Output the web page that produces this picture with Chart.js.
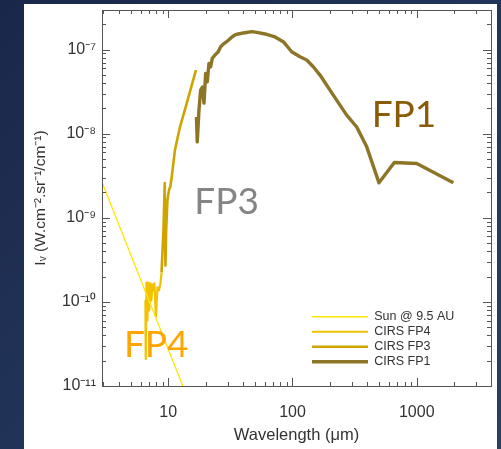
<!DOCTYPE html>
<html><head><meta charset="utf-8">
<script src="https://cdn.jsdelivr.net/npm/chart.js@4/dist/chart.umd.min.js"></script>
<style>
html,body{margin:0;padding:0;width:501px;height:449px;overflow:hidden;background:linear-gradient(135deg,#19284a 0%,#22355a 55%,#2b3f64 100%);}
#panel{position:absolute;left:24px;top:4px;width:473px;height:445px;background:#fff;}
canvas{display:block}
</style></head><body>
<div id="panel"><canvas id="c" width="473" height="445"></canvas></div>
<script>
// ---- data ----
const sunX = [2.93, 13.1];
const sunY = [2.65e-9, 1.0e-11];

const fp4X = [6.55, 6.59, 6.68, 6.80, 6.90, 7.03, 7.19, 7.32, 7.46, 7.60, 7.74, 7.96, 8.19, 8.42, 8.66, 8.83];
const fp4Y = [1.04e-10, 2.1e-11, 1.7e-10, 6.0e-11, 1.7e-10, 7.9e-11, 1.66e-10, 1.04e-10, 1.6e-10, 1.37e-10, 1.66e-10, 6.7e-11, 1.49e-10, 1.37e-10, 1.66e-10, 2.24e-10];

const fp3X = [8.83, 9.15, 9.37, 9.49, 9.62, 9.85, 10.13, 10.41, 10.71, 11.32, 12.41, 13.88, 15.23, 16.71];
const fp3Y = [2.24e-10, 7.1e-10, 2.58e-9, 2.7e-10, 7.1e-10, 1.6e-9, 2.12e-9, 2.37e-9, 3.2e-9, 6.37e-9, 1.19e-8, 2.12e-8, 3.48e-8, 5.7e-8];

const fp1X = [16.87, 17.12, 17.67, 18.23, 18.85, 19.39, 20.0, 20.61, 21.27, 21.95, 22.62, 23.77, 24.53, 25.27, 26.42, 27.73, 29.53, 32.4, 34.44, 36.6, 41.5, 46.95, 51.8, 60.1, 72.3, 84.3, 98.5, 114.9, 130.1, 147, 166.5, 213, 273, 328.8, 395.8, 497, 660, 1000, 1970];
const fp1Y = [1.58e-8, 7.98e-9, 1.9e-8, 3.3e-8, 3.58e-8, 2.31e-8, 5.21e-8, 4.14e-8, 6.85e-8, 6.24e-8, 7.86e-8, 8.6e-8, 9.0e-8, 9.4e-8, 1.08e-7, 1.16e-7, 1.24e-7, 1.40e-7, 1.49e-7, 1.53e-7, 1.585e-7, 1.63e-7, 1.60e-7, 1.53e-7, 1.41e-7, 1.24e-7, 9.4e-8, 8.2e-8, 7.5e-8, 6.24e-8, 4.97e-8, 2.87e-8, 1.66e-8, 1.2e-8, 6.97e-9, 2.6e-9, 4.54e-9, 4.42e-9, 2.6e-9];

const seriesLabels = ['Sun @ 9.5 AU', 'CIRS FP4', 'CIRS FP3', 'CIRS FP1'];
const xTickValues = [10, 100, 1000];
const yTickValues = [1e-11, 1e-10, 1e-9, 1e-8, 1e-7];

// in-plot annotations (anchored in data space)
const noteTexts = ['FP1', 'FP3', 'FP4'];
const noteX = [434, 16.19, 4.40];
const noteY = [1.2e-8, 1.12e-9, 2.2e-11];
const noteColors = ['#8a5c08', '#858585', '#ffa500'];

const zip = (xs, ys) => xs.map((x, i) => ({x: x, y: ys[i]}));
const SUP = {'-':'\u207B','0':'\u2070','1':'\u00B9','2':'\u00B2','3':'\u00B3','4':'\u2074','5':'\u2075','6':'\u2076','7':'\u2077','8':'\u2078','9':'\u2079'};
const sup = s => String(s).split('').map(c => SUP[c]).join('');
const FONT = "'Liberation Sans', Arial, Helvetica, sans-serif";

const framePlugin = {
  id: 'frame',
  afterLayout(chart) {
    const lg = chart.legend;
    if (!lg) return;
    const w = lg.width;
    lg.left = 285.5; lg.right = lg.left + w;
    lg.top = 304; lg.bottom = lg.top + 100; lg.height = 100;
  },
  afterDatasetsDraw(chart) {
    const ctx = chart.ctx, xs = chart.scales.x, ys = chart.scales.y;
    ctx.save();
    ctx.font = "37px Lato, 'Open Sans', sans-serif";
    ctx.textAlign = 'left';
    ctx.textBaseline = 'alphabetic';
    noteTexts.forEach((t, i) => {
      ctx.fillStyle = noteColors[i];
      ctx.fillText(t, xs.getPixelForValue(noteX[i]), ys.getPixelForValue(noteY[i]));
    });
    ctx.restore();
  },
  afterDraw(chart) {
    const ctx = chart.ctx, xs = chart.scales.x, ys = chart.scales.y;
    const {left, right, top, bottom} = chart.chartArea;
    ctx.save();
    ctx.strokeStyle = '#555';
    ctx.lineWidth = 1;
    ctx.strokeRect(Math.round(left) + 0.5, Math.round(top) + 0.5, Math.round(right - left), Math.round(bottom - top));
    ctx.beginPath();
    for (let k = 0; k <= 4; k++) {
      for (let m = 1; m <= 9; m++) {
        const v = m * Math.pow(10, k);
        if (v < xs.min || v > xs.max) continue;
        const p = Math.round(xs.getPixelForValue(v)) + 0.5;
        const len = m === 1 ? 8 : 4;
        ctx.moveTo(p, bottom); ctx.lineTo(p, bottom - len);
        ctx.moveTo(p, top); ctx.lineTo(p, top + len);
      }
    }
    for (let k = -12; k <= -6; k++) {
      for (let m = 1; m <= 9; m++) {
        const v = m * Math.pow(10, k);
        if (v < ys.min * 0.999 || v > ys.max) continue;
        const p = Math.round(ys.getPixelForValue(v)) + 0.5;
        const len = m === 1 ? 8 : 4;
        ctx.moveTo(left, p); ctx.lineTo(left + len, p);
        ctx.moveTo(right, p); ctx.lineTo(right - len, p);
      }
    }
    ctx.stroke();
    ctx.restore();
  }
};

new Chart(document.getElementById('c'), {
  type: 'line',
  data: {
    datasets: [
      {label: seriesLabels[0], data: zip(sunX, sunY), borderColor: '#ffe600', borderWidth: 1.3},
      {label: seriesLabels[1], data: zip(fp4X, fp4Y), borderColor: '#f2c200', borderWidth: 2.2},
      {label: seriesLabels[2], data: zip(fp3X, fp3Y), borderColor: '#cfa300', borderWidth: 2.6},
      {label: seriesLabels[3], data: zip(fp1X, fp1Y), borderColor: '#8c7526', borderWidth: 3.4}
    ]
  },
  options: {
    responsive: false,
    animation: false,
    elements: {point: {radius: 0}, line: {tension: 0, borderJoinStyle: 'round', fill: false}},
    layout: {padding: {left: 0, right: 6, top: 6, bottom: 0}},
    scales: {
      x: {
        type: 'logarithmic', min: 2.93, max: 3960,
        grid: {display: false, drawTicks: false}, border: {display: false},
        afterBuildTicks: s => { s.ticks = xTickValues.map(v => ({value: v, major: true})); },
        ticks: {padding: 17, color: '#333', autoSkip: false, maxRotation: 0,
                font: {family: FONT, size: 16}, callback: v => String(v)},
        title: {display: true, text: 'Wavelength (\u03BCm)', color: '#333',
                font: {family: FONT, size: 16.5}, padding: {top: 0, bottom: 4}},
        afterFit: s => { s.height = 63; s.paddingLeft = 0; s.paddingRight = 0; }
      },
      y: {
        type: 'logarithmic', min: 1e-11, max: 2.95e-7,
        grid: {display: false, drawTicks: false}, border: {display: false},
        afterBuildTicks: s => { s.ticks = yTickValues.map(v => ({value: v, major: true})); },
        ticks: {padding: 6, color: '#333', autoSkip: false,
                font: {family: FONT, size: 16},
                callback: v => '10' + sup(Math.round(Math.log10(v)))},
        title: {display: true, text: 'I\u1D65 (W.cm\u207B\u00B2.sr\u207B\u00B9/cm\u207B\u00B9)', color: '#333',
                font: {family: FONT, size: 15.5}, padding: {top: 7, bottom: 0}},
        afterFit: s => { s.width = 78; s.paddingTop = 0; s.paddingBottom = 0; }
      }
    },
    plugins: {
      legend: {
        position: 'chartArea', align: 'start',
        labels: {usePointStyle: true, pointStyle: 'line', pointStyleWidth: 56, boxWidth: 56,
                 padding: 2.5, color: '#333', font: {family: FONT, size: 12.5}}
      },
      tooltip: {enabled: false}
    }
  },
  plugins: [framePlugin]
});
</script></body></html>
